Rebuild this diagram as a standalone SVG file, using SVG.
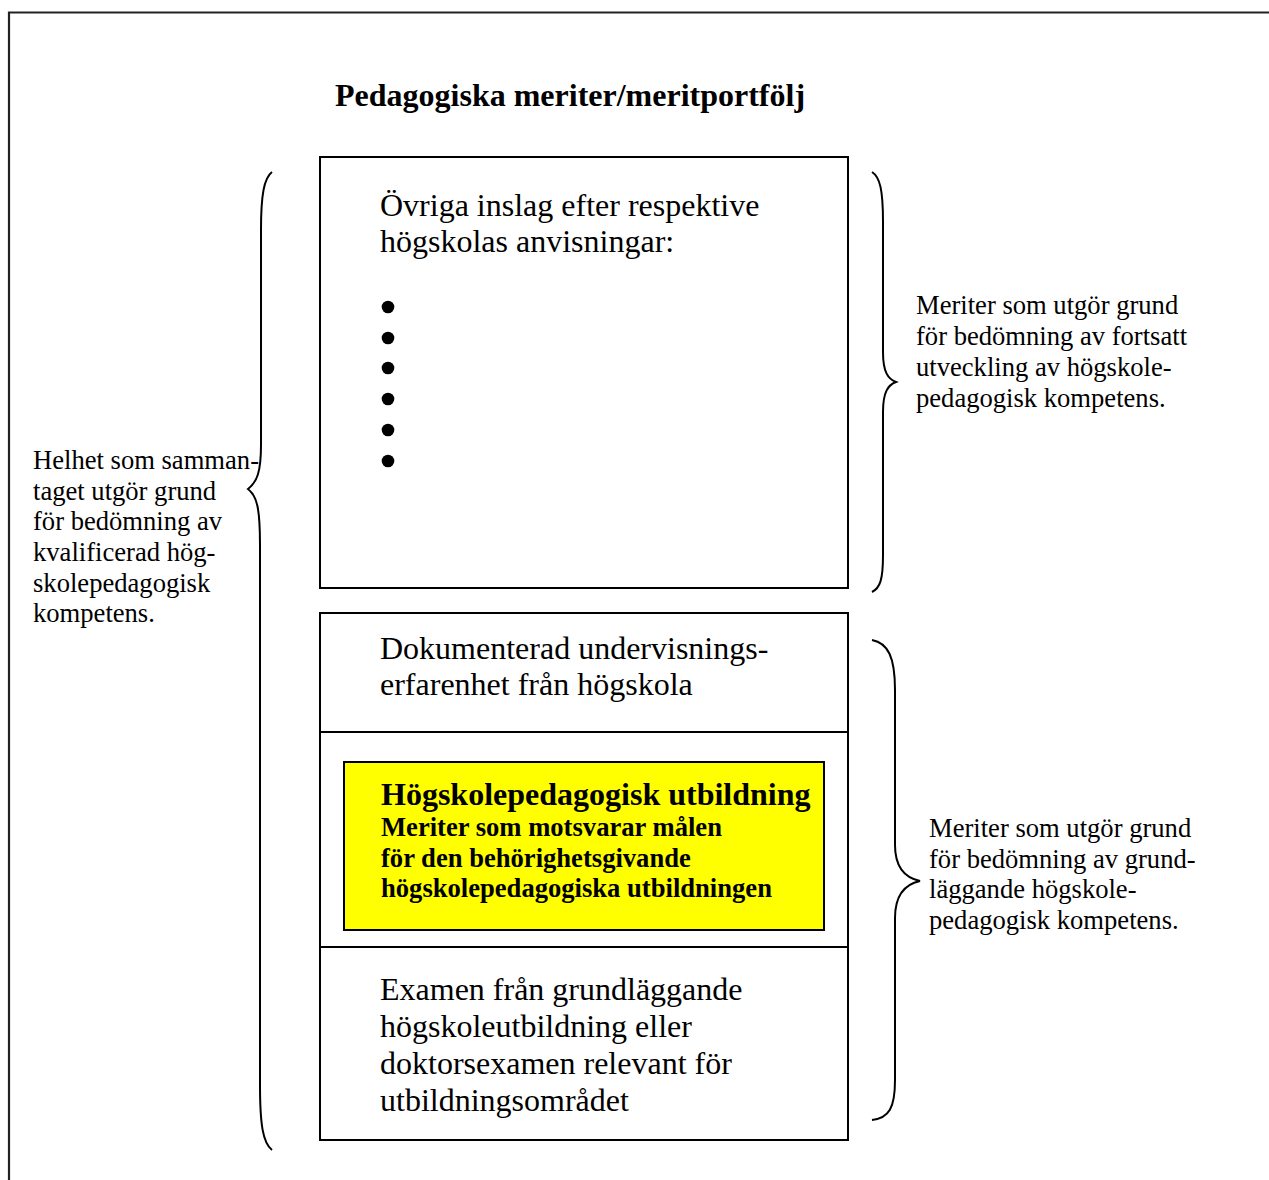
<svg xmlns="http://www.w3.org/2000/svg" width="1269" height="1180" viewBox="0 0 1269 1180">
<style>
text { font-family: "Liberation Serif", "Times New Roman", serif; fill: #000; }
.big { font-size: 32px; }
.side { font-size: 26.6px; }
.title { font-size: 32px; font-weight: bold; }
.hd { font-size: 32px; font-weight: bold; }
.sub { font-size: 26.6px; font-weight: bold; }
.box { fill: #fff; stroke: #000; stroke-width: 2; }
.brace { fill: none; stroke: #000; stroke-width: 2; }
</style>
<rect width="1269" height="1180" fill="#fff"/>
<path d="M9,1180 V12.5 H1269" fill="none" stroke="#222" stroke-width="2.2"/>
<text class="title" x="335" y="106">Pedagogiska meriter/meritportfölj</text>

<g id="node-ovriga">
<rect class="box" x="320" y="157" width="528" height="431"/>
<text class="big" x="380" y="216">Övriga inslag efter respektive</text>
<text class="big" x="380" y="252">högskolas anvisningar:</text>
<circle cx="388" cy="307" r="6.3"/>
<circle cx="388" cy="338" r="6.3"/>
<circle cx="388" cy="368" r="6.3"/>
<circle cx="388" cy="399" r="6.3"/>
<circle cx="388" cy="430" r="6.3"/>
<circle cx="388" cy="461" r="6.3"/>
</g>

<g id="node-lower">
<rect class="box" x="320" y="613" width="528" height="527"/>
<line x1="320" y1="732" x2="848" y2="732" stroke="#000" stroke-width="2"/>
<line x1="320" y1="947" x2="848" y2="947" stroke="#000" stroke-width="2"/>
</g>

<g id="node-dokumenterad">
<text class="big" x="380" y="659">Dokumenterad undervisnings-</text>
<text class="big" x="380" y="695">erfarenhet från högskola</text>
</g>

<g id="node-utbildning">
<rect x="344" y="762" width="480" height="168" fill="#ffff00" stroke="#000" stroke-width="2"/>
<text class="hd" x="381" y="805">Högskolepedagogisk utbildning</text>
<text class="sub" x="381" y="836">Meriter som motsvarar målen</text>
<text class="sub" x="381" y="867">för den behörighetsgivande</text>
<text class="sub" x="381" y="897">högskolepedagogiska utbildningen</text>
</g>

<g id="node-examen">
<text class="big" x="380" y="1000">Examen från grundläggande</text>
<text class="big" x="380" y="1037">högskoleutbildning eller</text>
<text class="big" x="380" y="1074">doktorsexamen relevant för</text>
<text class="big" x="380" y="1111">utbildningsområdet</text>
</g>

<g id="connectors">
<path class="brace" d="M272,172 C264,178 261,195 261,230 L261,445 C261,472 257,482 248,489 C257,496 260,508 260,545 L260,1085 C260,1125 263,1143 272,1150"/>
<path class="brace" d="M872,172 C880,177 883,190 883,222 L883,352 C883,372 888,379 896,382 C888,385 883,392 883,412 L883,555 C883,580 880,588 872,592"/>
<path class="brace" d="M872,640 C888,643 895,657 895,690 L895,845 C895,868 906,878 920,881 C906,884 895,894 895,918 L895,1080 C895,1108 889,1118 872,1120"/>
</g>

<g id="label-left">
<text class="side" x="33" y="469">Helhet som samman-</text>
<text class="side" x="33" y="500">taget utgör grund</text>
<text class="side" x="33" y="530">för bedömning av</text>
<text class="side" x="33" y="561">kvalificerad hög-</text>
<text class="side" x="33" y="592">skolepedagogisk</text>
<text class="side" x="33" y="622">kompetens.</text>
</g>

<g id="label-right-top">
<text class="side" x="916" y="314">Meriter som utgör grund</text>
<text class="side" x="916" y="345">för bedömning av fortsatt</text>
<text class="side" x="916" y="376">utveckling av högskole-</text>
<text class="side" x="916" y="407">pedagogisk kompetens.</text>
</g>

<g id="label-right-bottom">
<text class="side" x="929" y="837">Meriter som utgör grund</text>
<text class="side" x="929" y="868">för bedömning av grund-</text>
<text class="side" x="929" y="898">läggande högskole-</text>
<text class="side" x="929" y="929">pedagogisk kompetens.</text>
</g>
</svg>
